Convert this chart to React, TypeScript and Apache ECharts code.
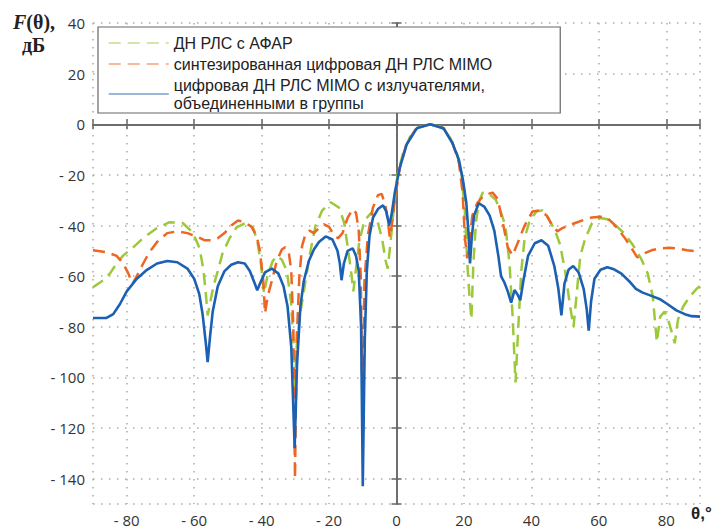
import React, { useEffect, useRef } from "react";
import * as echarts from "echarts";

const seriesNames = [
  "ДН РЛС с АФАР",
  "синтезированная цифровая ДН РЛС MIMO",
  "цифровая ДН РЛС MIMO с излучателями,\nобъединенными в группы",
];
const seriesColors = ["#9dc83a", "#ee6622", "#1b60b2"];

const afarTheta = [
  -90, -87, -85, -83, -81, -78, -75, -71, -67.3, -63.4, -61, -59.5, -58.4, -57.3, -56.6, -56, -55.2, -54.3, -53, -51.6,
  -49.5, -47.4, -44.4, -42.5, -41.3, -40.2, -39.3, -38.3, -36.7, -35.5, -34, -32.5, -31.3, -30.6, -30.1, -29.6, -28.7,
  -27, -25.5, -24, -22, -19.5, -17, -15.5, -14.3, -13.3, -12.8, -12, -11, -9.5, -7.5, -5.7, -4.3, -3.2, -2.6, -1.8,
  -0.8, 0.3, 2, 4, 6.5, 10, 13.5, 16, 18, 19.3, 20.3, 21, 21.6, 22.2, 22.8, 23.6, 24.6, 25.6, 27.5, 29.5, 31, 32.3,
  33.5, 34.4, 35.3, 36.2, 37, 38, 39.5, 41.5, 43.3, 45, 47, 48.5, 50, 51.5, 52.5, 53.5, 54.5, 56, 58, 60.5, 62.5, 65,
  67.5, 70, 72.5, 74.5, 76, 77.2, 78.2, 79.5, 80.5, 81.6, 82.5, 83.5, 85, 87, 89, 90,
];
const afarDb = [
  -64.4, -61.7, -59, -55, -51.8, -48.5, -44.8, -41, -38.7, -39, -42, -45.5, -49, -57, -66, -75.5, -70, -64, -58, -51,
  -45, -40.7, -38.7, -41, -46, -55, -66.8, -60, -54, -52, -53.5, -58, -70, -85, -104, -88, -76,
  -62, -50, -40, -34, -30.8, -33, -39, -50, -60, -66, -57, -46, -38, -35, -38, -45, -54, -57, -47,
  -33, -20, -11, -5, -1.2, 0, -1.3, -5.5, -12, -20, -35, -55, -67, -77, -55, -38, -30, -27, -27.5, -30, -35, -40,
  -55, -75, -102, -78, -58, -45, -38, -34.5, -34, -37, -42, -47.5, -58, -72, -80, -66, -52, -45, -39, -37, -37.5, -40,
  -43, -47.5, -53, -59, -68, -86, -76, -74, -77, -82, -86.5, -77, -72, -68, -65, -64,
];

const synthTheta = [
  -90, -86, -83, -81, -79.5, -78.3, -77, -75.5, -73.5, -71, -68, -65, -62, -59, -57, -55, -53, -51, -49, -47, -45, -43,
  -41.5, -40.5, -39.5, -39, -38.2, -37, -35.5, -34, -33, -32, -31.2, -30.6, -30.1, -29.6, -28.8, -28, -27, -25.8, -24.5,
  -23, -21.5, -20, -18.5, -17.3, -16, -14.5, -13, -12, -11.2, -10.6, -10.1, -9.5, -8.5, -7, -5.5, -4.4, -3.3, -2.5, -2,
  -1.4, -0.5, 1, 3, 6, 10, 14, 16.5, 18.5, 19.6, 20.3, 21, 21.7, 22.5, 24, 26, 28.5, 30, 31.4, 33, 34.4, 35.9, 38, 40.3,
  42.5, 44.5, 46, 47.7, 49.2, 51, 53, 55.5, 58, 60.5, 62.5, 64.5, 66, 67.6, 69.5, 71.4, 73.5, 75.6, 78, 80.9, 83, 86.2, 90,
];
const synthDb = [
  -49.8, -50.5, -52, -55, -59, -63, -60, -56, -51, -46.5, -43, -42.3, -43, -44.5, -45.8, -45.8, -45, -43, -40, -38, -38.7, -40.5,
  -44, -50, -62, -74.7, -68, -62, -54, -49.5, -48.6, -50, -58, -80, -140, -85, -60, -48, -43.5, -42, -43,
  -41, -39.5, -40.5, -44, -45, -43, -37, -33.5, -35, -42, -60, -110, -62, -44, -33, -28, -27.5, -32, -39, -44.7,
  -40, -30, -17, -7.5, -1.3, 0, -1.5, -7, -15, -27, -45, -53, -45, -36, -31, -28, -27, -29.5, -38, -48.6, -51.8, -47, -40, -34.5,
  -34, -36, -39.5, -42.3, -41, -40, -39, -37.8, -36.8, -36.5, -37, -39.5, -42, -44.7, -48.5, -52.6, -51, -49.8, -49, -48.8, -49, -49.8, -50.3,
];

const groupTheta = [
  -90, -86, -84, -82, -80, -77, -74, -71, -68, -65, -62, -60, -58.5, -57.5, -56.5, -56, -55.3, -54.5, -53, -51, -49, -47,
  -45, -43.5, -42, -41.3, -40.5, -39, -37, -35, -33.5, -32.3, -31.2, -30.2, -29.5, -28.5, -27.5, -26, -24.5, -23, -21,
  -19, -17.5, -16.8, -16.3, -15.6, -14.5, -13, -12, -11.2, -10.5, -10, -9.4, -8.8, -8, -7, -5.5, -4, -3, -2.2, -1.5,
  -0.5, 1, 3, 6, 10, 14, 16.6, 18.5, 19.7, 20.7, 21.3, 21.8, 22.3, 23, 24.4, 26, 27.6, 29, 30.2, 31, 32, 33, 34, 35, 36,
  36.7, 37.6, 39, 41, 43, 45, 46.8, 48, 48.9, 49.8, 51, 52.4, 54, 55.5, 56.4, 57, 57.7, 58.7, 60.5, 62.5, 64.5, 66.7,
  69, 71, 73, 75.6, 78, 80.3, 83, 85.5, 87.5, 90,
];
const groupDb = [
  -76.5, -76.5, -75, -71, -66, -61, -57.5, -55, -54, -54.5, -57, -61, -67, -75, -87, -94, -84, -74, -64, -58, -55.5, -54.5,
  -55, -58, -63, -65.6, -63, -58.5, -57, -59, -64, -72, -88, -128, -95, -72, -62, -54, -49.5, -46.5, -44.3,
  -45.5, -50, -55, -61.6, -55, -50, -49, -52, -58, -80, -143, -85, -58, -44, -37, -33.5, -32, -34.5, -40, -36,
  -27, -17, -8, -1.6, 0, -1.7, -7.5, -14, -22, -31, -42, -55, -45, -36, -31.2, -32.5, -36, -42, -52, -60, -62.5, -66, -70.5, -65.5, -67.5,
  -69.5, -62, -52, -47, -45.8, -48, -56, -65, -75.5, -63, -57.5, -56, -58.5, -65, -73, -81.5, -70, -61, -57.5, -56.5, -57.3, -59,
  -62, -65, -66.5, -67.8, -69, -71, -73.5, -75, -75.8, -76,
];

const pair = (xs: number[], ys: number[]) => xs.map((x, i) => [x, ys[i]]);

const fmt = (v: number) => (v < 0 ? "- " + Math.abs(v) : String(v));

export default function App() {
  const ref = useRef<HTMLDivElement>(null);
  useEffect(() => {
    if (!ref.current) return;
    const chart = echarts.init(ref.current, undefined, { renderer: "svg" });
    const labelStyle = { fontFamily: "Open Sans", fontSize: 15, color: "#333" };
    const gridLine = { show: true, lineStyle: { color: "#aaa", width: 1.5, type: [1.5, 6.5] as any } };
    const axisLine = { show: true, lineStyle: { color: "#666", width: 1.5 } };
    const tick = { show: true, inside: true, length: 5, lineStyle: { color: "#666", width: 1.5 } };
    const dataSets = [pair(afarTheta, afarDb), pair(synthTheta, synthDb), pair(groupTheta, groupDb)];
    chart.setOption({
      animation: false,
      grid: { left: 93, right: 26, top: 23, bottom: 25, containLabel: false },
      legend: {
        orient: "vertical",
        left: 98,
        top: 27,
        backgroundColor: "#fff",
        borderColor: "#666",
        borderWidth: 1.2,
        padding: [7, 68, 1, 10],
        itemGap: 3,
        itemWidth: 60,
        itemHeight: 14,
        itemStyle: { color: "rgba(0,0,0,0)", borderWidth: 0, opacity: 0 },
        lineStyle: { width: 1.5, opacity: 0.6 },
        textStyle: { fontFamily: "Liberation Sans", fontSize: 16, color: "#222", lineHeight: 18 },
        data: seriesNames,
      },
      xAxis: [
        {
          type: "value",
          min: -90,
          max: 90,
          splitNumber: 9,
          axisLine,
          axisTick: tick,
          axisLabel: { ...labelStyle, margin: 8, formatter: (v: number) => (Math.abs(v) === 90 ? "" : fmt(v)) },
          splitLine: gridLine,
        },
        {
          type: "value",
          position: "top",
          min: -90,
          max: 90,
          splitNumber: 9,
          axisLine,
          axisTick: tick,
          axisLabel: { show: false },
          splitLine: { show: false },
        },
      ],
      yAxis: [
        {
          type: "value",
          min: -150,
          max: 40,
          splitNumber: 10,
          axisLine,
          axisTick: tick,
          axisLabel: { ...labelStyle, margin: 8, formatter: (v: number) => (v === -150 ? "" : fmt(v)) },
          splitLine: gridLine,
        },
        {
          type: "value",
          position: "right",
          min: -150,
          max: 40,
          splitNumber: 10,
          axisLine,
          axisTick: tick,
          axisLabel: { show: false },
          splitLine: { show: false },
        },
      ],
      series: seriesNames.map((name, i) => ({
        name,
        type: "line",
        xAxisIndex: 0,
        yAxisIndex: 0,
        data: dataSets[i],
        symbol: "none",
        showSymbol: false,
        z: 2 + i,
        itemStyle: { color: seriesColors[i] },
        lineStyle: {
          color: seriesColors[i],
          width: i === 2 ? 2.6 : 2.5,
          type: i === 2 ? "solid" : [12, 7],
        },
      })),
      graphic: [
        {
          type: "text",
          left: 13,
          top: 12,
          style: {
            text: "{i|F}{b|(θ),}",
            rich: {
              i: { fontFamily: "Liberation Serif", fontSize: 20, fontWeight: "bold", fontStyle: "italic", fill: "#222" },
              b: { fontFamily: "Liberation Serif", fontSize: 20, fontWeight: "bold", fill: "#222" },
            },
          },
        },
        {
          type: "text",
          left: 22,
          top: 35,
          style: { text: "дБ", fontFamily: "Liberation Serif", fontSize: 20, fontWeight: "bold", fill: "#222" },
        },
        {
          type: "text",
          left: 691,
          top: 505,
          style: { text: "θ,°", fontFamily: "Liberation Sans", fontSize: 17, fontWeight: "bold", fill: "#222" },
        },
      ],
    });
    return () => chart.dispose();
  }, []);
  return <div ref={ref} style={{ width: 726, height: 529, position: "absolute", left: 0, top: 0 }} />;
}
